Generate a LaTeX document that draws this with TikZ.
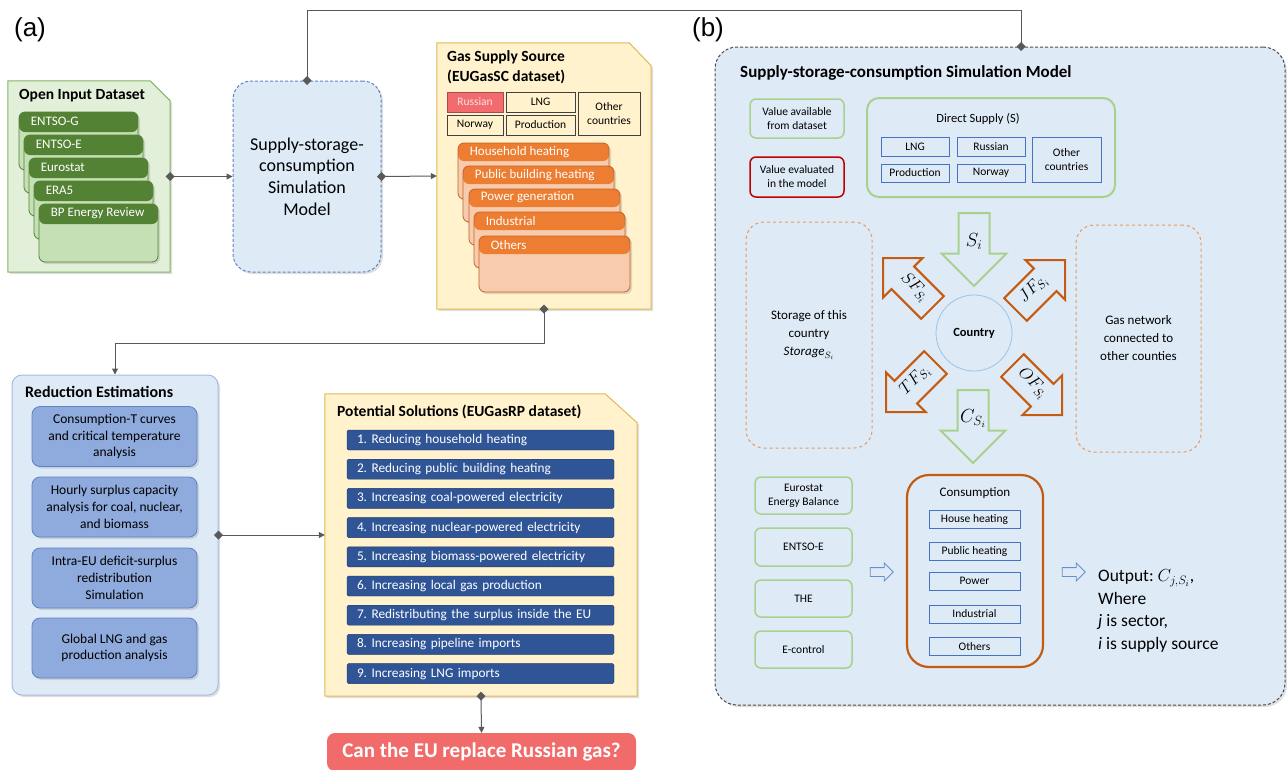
\documentclass[tikz,border=0pt]{standalone}
\usepackage{fix-cm}
\usepackage{amsmath}
\usepackage{fontspec}
\setmainfont{Carlito}
\newfontfamily\panelfont{Liberation Sans}
\usepackage{tikz}
\usetikzlibrary{arrows.meta,shapes.arrows,shadows}

\definecolor{inGreen}{HTML}{E2F0D9}
\definecolor{inBorder}{HTML}{82B366}
\definecolor{darkGreen}{HTML}{548235}
\definecolor{paleGreen}{HTML}{C5E0B4}
\definecolor{legGreen}{HTML}{A9D18E}
\definecolor{bgBlue}{HTML}{DEEBF7}
\definecolor{simBorder}{HTML}{5B83C6}
\definecolor{goldFill}{HTML}{FFF2CC}
\definecolor{goldBorder}{HTML}{E0B85A}
\definecolor{gasOrange}{HTML}{ED7D31}
\definecolor{paleOrange}{HTML}{F8CBAD}
\definecolor{rusRed}{HTML}{F26B6E}
\definecolor{reduBorder}{HTML}{A4BCE0}
\definecolor{estBlue}{HTML}{8FAADC}
\definecolor{estBorder}{HTML}{5F82C4}
\definecolor{barBlue}{HTML}{2F5597}
\definecolor{barBorder}{HTML}{203864}
\definecolor{askRed}{HTML}{F26B6B}
\definecolor{linkGray}{HTML}{595959}
\definecolor{evalRed}{HTML}{C00000}
\definecolor{dashOrange}{HTML}{E9975A}
\definecolor{consOrange}{HTML}{C55A11}
\definecolor{ringBlue}{HTML}{9DC3E6}
\definecolor{boxBlue}{HTML}{4472C4}

\frenchspacing

\begin{document}
\begin{tikzpicture}[x=1pt,y=-1pt,
	every node/.style={inner sep=0pt, font=\fontsize{13}{15.6}\selectfont},
	softshadow/.style={drop shadow={opacity=.25,shadow xshift=2pt,shadow yshift=-2pt}},
	snipbox/.style={line width=1pt, softshadow},
	boxtitle/.style={anchor=west, align=left, font=\bfseries\fontsize{15.5}{20}\selectfont},
	gcard/.style={draw=darkGreen, line width=.8pt, fill=paleGreen, rounded corners=6pt,
		minimum width=119pt, minimum height=58pt, softshadow,
		path picture={\fill[darkGreen] (path picture bounding box.north west) rectangle ([yshift=-20pt]path picture bounding box.north east);}},
	ocard/.style={draw=gasOrange!80!black, line width=.8pt, fill=paleOrange, rounded corners=6pt,
		minimum width=151pt, minimum height=56pt, softshadow,
		path picture={\fill[gasOrange] (path picture bounding box.north west) rectangle ([yshift=-18pt]path picture bounding box.north east);}},
	cardtxt/.style={anchor=west, text=white},
	srcbox/.style={draw=black!75, line width=.8pt, fill=goldFill, align=center, font=\fontsize{11.5}{13.5}\selectfont},
	estbox/.style={draw=estBorder, fill=estBlue, line width=.8pt, rounded corners=8pt, minimum width=165pt,
		minimum height=60pt, align=center, font=\fontsize{13.5}{16.7}\selectfont, softshadow},
	solbar/.style={draw=barBorder, fill=barBlue, rounded corners=1.5pt, text width=247pt, inner xsep=10pt,
		minimum height=20pt, align=left, text=white, font=\fontsize{13.3}{15}\selectfont},
	legbox/.style={line width=1.5pt, rounded corners=6pt, align=center, fill=bgBlue, font=\fontsize{11.5}{14}\selectfont},
	supbox/.style={draw=boxBlue, line width=.8pt, align=center, font=\fontsize{11.5}{13.5}\selectfont},
	dashbox/.style={draw=dashOrange, dashed, line width=1pt, rounded corners=18pt, align=center, font=\fontsize{13}{18}\selectfont},
	blockg/.style={single arrow, draw=legGreen, line width=2pt, fill=bgBlue, single arrow tip angle=90,
		shape border rotate=270, minimum height=73pt, minimum width=0pt, single arrow head extend=17pt,
		text width=27pt, inner sep=1pt, align=center, font=\fontsize{19}{21}\selectfont},
	blocko/.style={single arrow, draw=consOrange, line width=2pt, fill=bgBlue, single arrow tip angle=90,
		minimum height=70pt, minimum width=0pt, single arrow head extend=12pt,
		text height=14pt, text depth=10pt, inner sep=3pt, font=\fontsize{17}{19}\selectfont},
	hollowarrow/.style={single arrow, draw=boxBlue!80, line width=.8pt, fill=bgBlue, minimum height=23pt,
		minimum width=0pt, single arrow head extend=4.5pt, inner sep=4pt},
	linkline/.style={draw=linkGray, line width=1pt, {Diamond[length=9pt,width=9pt]}-{Triangle[length=6pt,width=6pt]}, shorten <=-4.5pt}]

	\useasboundingbox (0,0) rectangle (1287,769);

	\node[font=\panelfont\fontsize{26}{30}\selectfont] (lblA) at (30,30) {(a)};
	\node[font=\panelfont\fontsize{26}{30}\selectfont] (lblB) at (708,30) {(b)};

	% (a) open input dataset
	\node[minimum width=162pt, minimum height=191pt] (inset) at (89,176.5) {};
	\filldraw[snipbox, draw=inBorder, fill=inGreen] (inset.north west) -- ([xshift=-20pt]inset.north east)
		-- ([yshift=-20pt]inset.north east) -- (inset.south east) -- (inset.south west) -- cycle;
	\node[boxtitle] (insetT) at (19,96) {Open Input Dataset};
	\node[gcard] (gcA) at (78.5,141) {};
	\node[cardtxt] (gcAT) at ([xshift=12pt,yshift=-10pt]gcA.north west) {ENTSO-G};
	\node[gcard] (gcB) at (83.5,164) {};
	\node[cardtxt] (gcBT) at ([xshift=12pt,yshift=-10pt]gcB.north west) {ENTSO-E};
	\node[gcard] (gcC) at (88.5,187) {};
	\node[cardtxt] (gcCT) at ([xshift=12pt,yshift=-10pt]gcC.north west) {Eurostat};
	\node[gcard] (gcD) at (93.5,210) {};
	\node[cardtxt] (gcDT) at ([xshift=12pt,yshift=-10pt]gcD.north west) {ERA5};
	\node[gcard] (gcE) at (98.5,233) {};
	\node[cardtxt] (gcET) at ([xshift=12pt,yshift=-10pt]gcE.north west) {BP Energy Review};

	% (a) model
	\node[draw=simBorder, dash pattern=on 3pt off 2pt, line width=1pt, fill=bgBlue, rounded corners=18pt,
		minimum width=148pt, minimum height=191pt, align=center, font=\fontsize{18}{21.7}\selectfont,
		softshadow] (sim) at (307,176.5) {Supply-storage-\\consumption\\Simulation\\Model};

	% (a) gas supply source
	\node[minimum width=214pt, minimum height=266pt] (gas) at (544,176) {};
	\filldraw[snipbox, draw=goldBorder, fill=goldFill] (gas.north west) -- ([xshift=-22pt]gas.north east)
		-- ([yshift=-23pt]gas.north east) -- (gas.south east) -- (gas.south west) -- cycle;
	\node[boxtitle] (gasT) at (447,67) {Gas Supply Source\\(EUGasSC dataset)};
	\node[srcbox, fill=rusRed, draw=rusRed!70!black, text=white!80!rusRed, minimum width=56pt, minimum height=20pt] (gRus) at (475,102) {Russian};
	\node[srcbox, minimum width=69pt, minimum height=20pt] (gLng) at (540.5,102) {LNG};
	\node[srcbox, minimum width=56pt, minimum height=20pt] (gNor) at (475,125) {Norway};
	\node[srcbox, minimum width=69pt, minimum height=20pt] (gProd) at (540.5,125) {Production};
	\node[srcbox, minimum width=62pt, minimum height=43pt] (gOth) at (609,113.5) {Other\\countries};
	\node[ocard] (ocA) at (533.5,171) {};
	\node[cardtxt] (ocAT) at ([xshift=12pt,yshift=-9pt]ocA.north west) {Household heating};
	\node[ocard] (ocB) at (538.5,194) {};
	\node[cardtxt] (ocBT) at ([xshift=12pt,yshift=-9pt]ocB.north west) {Public building heating};
	\node[ocard] (ocC) at (544.5,217) {};
	\node[cardtxt] (ocCT) at ([xshift=12pt,yshift=-9pt]ocC.north west) {Power generation};
	\node[ocard] (ocD) at (549.5,240) {};
	\node[cardtxt] (ocDT) at ([xshift=12pt,yshift=-9pt]ocD.north west) {Industrial};
	\node[ocard] (ocE) at (554.5,264) {};
	\node[cardtxt] (ocET) at ([xshift=12pt,yshift=-9pt]ocE.north west) {Others};

	% (a) reduction estimations
	\node[draw=reduBorder, fill=bgBlue, line width=1pt, rounded corners=10pt, minimum width=206pt,
		minimum height=320pt, softshadow] (redu) at (115,535) {};
	\node[boxtitle, font=\bfseries\fontsize{16}{20}\selectfont] (reduT) at (25,392) {Reduction Estimations};
	\node[estbox] (estA) at (114.5,436.5) {Consumption-T curves\\and critical temperature\\analysis};
	\node[estbox] (estB) at (114.5,507) {Hourly surplus capacity\\analysis for coal, nuclear,\\and biomass};
	\node[estbox] (estC) at (114.5,578) {Intra-EU deficit-surplus\\redistribution\\Simulation};
	\node[estbox] (estD) at (114.5,648) {Global LNG and gas\\production analysis};

	% (a) potential solutions
	\node[minimum width=312pt, minimum height=302pt] (sol) at (481,545) {};
	\filldraw[snipbox, draw=goldBorder, fill=goldFill] (sol.north west) -- ([xshift=-32pt]sol.north east)
		-- ([yshift=-29pt]sol.north east) -- (sol.south east) -- (sol.south west) -- cycle;
	\node[boxtitle] (solT) at (337,412) {Potential Solutions (EUGasRP dataset)};
	\node[solbar] (solA) at (480.5,440) {1. Reducing household heating};
	\node[solbar] (solB) at (480.5,469.2) {2. Reducing public building heating};
	\node[solbar] (solC) at (480.5,498.4) {3. Increasing coal-powered electricity};
	\node[solbar] (solD) at (480.5,527.6) {4. Increasing nuclear-powered electricity};
	\node[solbar] (solE) at (480.5,556.8) {5. Increasing biomass-powered electricity};
	\node[solbar] (solF) at (480.5,586) {6. Increasing local gas production};
	\node[solbar] (solG) at (480.5,615.2) {7. Redistributing the surplus inside the EU};
	\node[solbar] (solH) at (480.5,644.4) {8. Increasing pipeline imports};
	\node[solbar] (solI) at (480.5,673.6) {9. Increasing LNG imports};

	\node[fill=askRed, rounded corners=8pt, minimum width=309pt, minimum height=38pt, text=white,
		font=\bfseries\fontsize{21}{25}\selectfont] (ask) at (481.5,752) {Can the EU replace Russian gas?};

	% (b) model details
	\node[draw=black!70, dash pattern=on 3pt off 2pt, line width=1pt, fill=bgBlue, rounded corners=22pt,
		minimum width=570pt, minimum height=658pt, softshadow] (bbox) at (1000,376) {};
	\node[boxtitle, font=\bfseries\fontsize{17}{20}\selectfont] (bboxT) at (740,73) {Supply-storage-consumption Simulation Model};

	\node[legbox, draw=legGreen, minimum width=94pt, minimum height=39pt] (avail) at (797,118.5) {Value available\\from dataset};
	\node[legbox, draw=evalRed, minimum width=94pt, minimum height=40pt] (evald) at (797,177) {Value evaluated\\in the model};

	\node[draw=legGreen, line width=2pt, rounded corners=12pt, minimum width=248pt, minimum height=99pt] (dsup) at (991,147.5) {};
	\node[font=\fontsize{12.5}{15}\selectfont] (dsupT) at (978,119) {Direct Supply (S)};
	\node[supbox, minimum width=68pt, minimum height=19pt] (dLng) at (915,146.5) {LNG};
	\node[supbox, minimum width=68pt, minimum height=19pt] (dRus) at (991,146.5) {Russian};
	\node[supbox, minimum width=68pt, minimum height=18pt] (dProd) at (915,173) {Production};
	\node[supbox, minimum width=68pt, minimum height=18pt] (dNor) at (991,173) {Norway};
	\node[supbox, minimum width=69pt, minimum height=45pt] (dOth) at (1066.5,159.5) {Other\\countries};

	\node[dashbox, minimum width=126pt, minimum height=226pt] (store) at (809,335) {Storage of this\\country\\$\mathit{Storage}_{S_i}$};
	\node[dashbox, minimum width=125pt, minimum height=227pt] (net) at (1138.5,338.5) {Gas network\\connected to\\other counties};

	\node[circle, draw=ringBlue, line width=.8pt, minimum size=76pt, font=\bfseries\fontsize{12.5}{15}\selectfont] (ctry) at (974,333) {Country};

	\node[blockg, anchor=tail] (arrS) at (974,212) {$S_i$};
	\node[blockg, anchor=tail] (arrC) at (973,389) {$C_{S_i}$};
	\node[blocko, rotate=-45, shape border rotate=180, anchor=tip] (arrSF) at (882,257) {$SF_{S_i}$};
	\node[blocko, rotate=45, anchor=tip] (arrJF) at (1066,259) {$JF_{S_i}$};
	\node[blocko, rotate=45, shape border rotate=180, anchor=tip] (arrTF) at (885,413) {$TF_{S_i}$};
	\node[blocko, rotate=-45, anchor=tip] (arrOF) at (1063,416) {$OF_{S_i}$};

	\node[legbox, draw=legGreen, minimum width=97pt, minimum height=37pt] (dEuro) at (803.5,495.5) {Eurostat\\Energy Balance};
	\node[legbox, draw=legGreen, minimum width=97pt, minimum height=38pt] (dEntso) at (803.5,547) {ENTSO-E};
	\node[legbox, draw=legGreen, minimum width=97pt, minimum height=37pt] (dThe) at (803.5,598.5) {THE};
	\node[legbox, draw=legGreen, minimum width=97pt, minimum height=37pt] (dCtl) at (803.5,649.5) {E-control};

	\node[hollowarrow] (inArr) at (879.5,572) {};

	\node[draw=consOrange, line width=2.2pt, rounded corners=22pt, minimum width=136pt, minimum height=192pt] (cons) at (975,571) {};
	\node (consT) at (975,493) {Consumption};
	\node[supbox, minimum width=91pt, minimum height=18pt] (cHouse) at (974.5,519) {House heating};
	\node[supbox, minimum width=91pt, minimum height=18pt] (cPub) at (974.5,551.5) {Public heating};
	\node[supbox, minimum width=91pt, minimum height=18pt] (cPow) at (974.5,581) {Power};
	\node[supbox, minimum width=91pt, minimum height=18pt] (cInd) at (974.5,614) {Industrial};
	\node[supbox, minimum width=91pt, minimum height=18pt] (cOth) at (974.5,646.5) {Others};

	\node[hollowarrow] (outArr) at (1071.5,572) {};
	\node[anchor=west, align=left, font=\fontsize{17.5}{22.5}\selectfont] (outT) at (1098,611)
		{Output: $C_{j,S_i}$,\\Where\\\textit{j} is sector,\\\textit{i} is supply source};

	% connectors
	\draw[linkline] (inset.east) -- (sim.west);
	\draw[linkline] (sim.east) -- (gas.west);
	\draw[linkline] (gas.south) -- ++(0,34) -| (redu.north);
	\draw[linkline] (redu.east) -- (redu.east -| sol.west);
	\draw[linkline] (sol.south) -- (ask.north);
	\coordinate (bJoin) at ([xshift=21pt]bbox.north);
	\draw[linkline, {Diamond[length=9pt,width=9pt]}-{Diamond[length=9pt,width=9pt]}, shorten >=-4.5pt]
		(sim.north) -- ++(0,-70) -| (bJoin);
\end{tikzpicture}
\end{document}
